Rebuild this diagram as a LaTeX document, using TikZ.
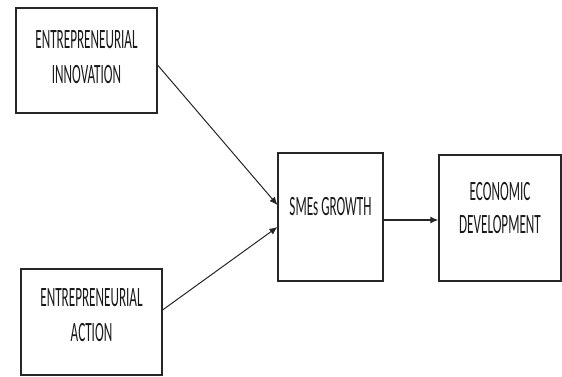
\documentclass[tikz,border=0pt]{standalone}
\usepackage{fontspec}
\newfontfamily\boxfont[FakeStretch=0.47]{Carlito}
\usetikzlibrary{arrows.meta}
\tikzset{
  box/.style={draw=black!85, line width=1.1pt, rectangle, inner sep=0pt},
  lbl/.style={align=center, inner sep=0pt, text=black!90, font=\boxfont\fontsize{28}{35}\selectfont},
  conn/.style={draw=black!85, line width=1pt, -{Latex[length=8pt,width=7pt]}},
  thick conn/.style={draw=black!85, line width=2pt, -{Latex[length=8pt,width=7pt]}}
}
\begin{document}
\begin{tikzpicture}[x=1pt,y=-1pt]
\useasboundingbox (0,0) rectangle (562,376);
\node[box, minimum width=141pt, minimum height=105pt] (b1) at (86.5,60.5) {};
\node[box, minimum width=141pt, minimum height=106pt] (b2) at (91.5,322) {};
\node[box, minimum width=105pt, minimum height=128pt] (b3) at (330.5,217) {};
\node[box, minimum width=122pt, minimum height=126pt] (b4) at (500,218) {};
\node[lbl] (t1) at (86.5,57) {ENTREPRENEURIAL\\INNOVATION};
\node[lbl] (t2) at (91.5,315.5) {ENTREPRENEURIAL\\ACTION};
\node[lbl] (t3) at (330.5,207) {SMEs GROWTH};
\node[lbl, font=\boxfont\fontsize{28}{33}\selectfont] (t4) at (500,208.5) {ECONOMIC\\DEVELOPMENT};
\draw[conn] ([yshift=-4.5pt]b1.east) -- ([yshift=12pt]b3.west);
\draw[conn] ([yshift=12pt]b2.east) -- ([yshift=-10pt]b3.west);
\draw[thick conn] ([yshift=-3pt]b3.east) -- ([yshift=-2pt]b4.west);
\end{tikzpicture}
\end{document}
